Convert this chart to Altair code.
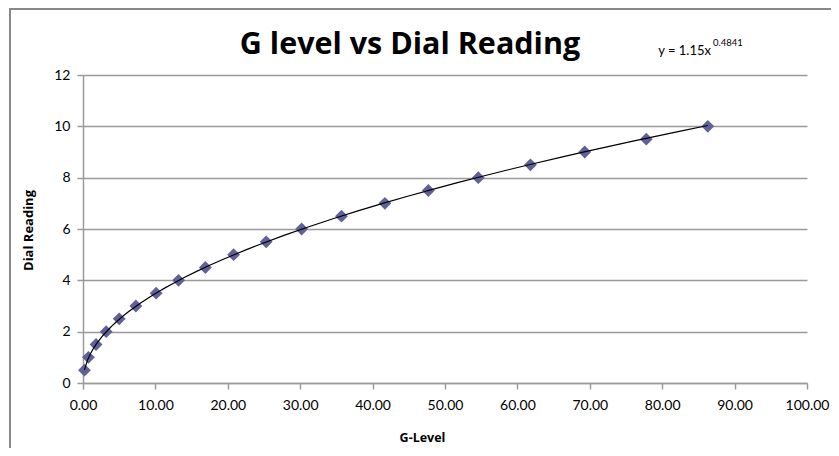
import altair as alt
import pandas as pd

# Data
g_level = [0.2, 0.75, 1.8, 3.2, 5.0, 7.3, 10.1, 13.2, 16.9, 20.8,
           25.3, 30.2, 35.7, 41.7, 47.7, 54.6, 61.8, 69.3, 77.8, 86.3]
dial_reading = [0.5, 1.0, 1.5, 2.0, 2.5, 3.0, 3.5, 4.0, 4.5, 5.0,
                5.5, 6.0, 6.5, 7.0, 7.5, 8.0, 8.5, 9.0, 9.5, 10.0]
x_ticks = [0, 10, 20, 30, 40, 50, 60, 70, 80, 90, 100]
y_ticks = [0, 2, 4, 6, 8, 10, 12]

title_text = ["G level vs Dial Reading"]
eq_main = ["y = 1.15x"]
eq_sup = ["0.4841"]

FONT = "Lato"
TFONT = "Open Sans"
PT_COLOR = "#616199"
GRID = "#9a9a9a"

df = pd.DataFrame({"g": g_level, "d": dial_reading})
base = alt.Chart(df)

x_enc = alt.X(
    "g:Q",
    scale=alt.Scale(domain=[0, 100], nice=False, zero=False),
    axis=alt.Axis(
        values=x_ticks, format=".2f", title="G-Level", grid=False, labelFlush=False,
        domainColor=GRID, domainWidth=1.5, tickColor=GRID, tickWidth=1.5, tickSize=6,
        labelFont=FONT, labelFontSize=14, labelColor="black", labelPadding=9,
        titleFont=TFONT, titleFontSize=12.5, titleFontWeight="bold", titleColor="black",
        titleX=339, titleY=54, titleBaseline="middle", titleAlign="center",
    ),
)
y_enc = alt.Y(
    "d:Q",
    scale=alt.Scale(domain=[0, 12], nice=False),
    axis=alt.Axis(
        values=y_ticks, title="Dial Reading", grid=True, gridColor=GRID, gridWidth=1.5,
        domainColor=GRID, domainWidth=1.5, tickColor=GRID, tickWidth=1.5, tickSize=6,
        labelFont=FONT, labelFontSize=14, labelColor="black", labelPadding=7,
        titleFont=TFONT, titleFontSize=13, titleFontWeight="bold", titleColor="black",
        titleX=-55, titleY=155, titleBaseline="middle", titleAlign="center", titleAngle=270,
    ),
)

points = base.mark_point(
    shape="diamond", filled=True, size=165, color=PT_COLOR, opacity=1
).encode(x=x_enc, y=y_enc)

trend = base.transform_regression("g", "d", method="pow").mark_line(
    color="black", strokeWidth=1.2
).encode(x="g:Q", y="d:Q")

title = alt.Chart(pd.DataFrame({"t": title_text})).mark_text(
    font=TFONT, fontSize=30.5, fontWeight="bold", align="center", baseline="alphabetic", color="black"
).encode(text="t:N", x=alt.value(327), y=alt.value(-21))

eq1 = alt.Chart(pd.DataFrame({"t": eq_main})).mark_text(
    font=FONT, fontSize=13, align="right", baseline="alphabetic", color="black"
).encode(text="t:N", x=alt.value(628), y=alt.value(-20))

eq2 = alt.Chart(pd.DataFrame({"t": eq_sup})).mark_text(
    font=FONT, fontSize=9.5, align="left", baseline="alphabetic", color="black"
).encode(text="t:N", x=alt.value(630), y=alt.value(-29))

one = alt.Chart(pd.DataFrame({"k": [0]}))
border_left = one.mark_rule(color="#888888", strokeWidth=2).encode(
    x=alt.value(-73), y=alt.value(-66), y2=alt.value(420)
)
border_top = one.mark_rule(color="#888888", strokeWidth=2).encode(
    x=alt.value(-74), x2=alt.value(800), y=alt.value(-66)
)

chart = alt.layer(points, trend, title, eq1, eq2, border_left, border_top).properties(
    width=724, height=308,
    padding={"left": 75, "top": 67, "right": 24, "bottom": 65},
    autosize=alt.AutoSizeParams(type="none"),
    background="white",
).configure_view(stroke=None)

chart.save("out.html", embed_options={"renderer": "svg", "actions": False})
